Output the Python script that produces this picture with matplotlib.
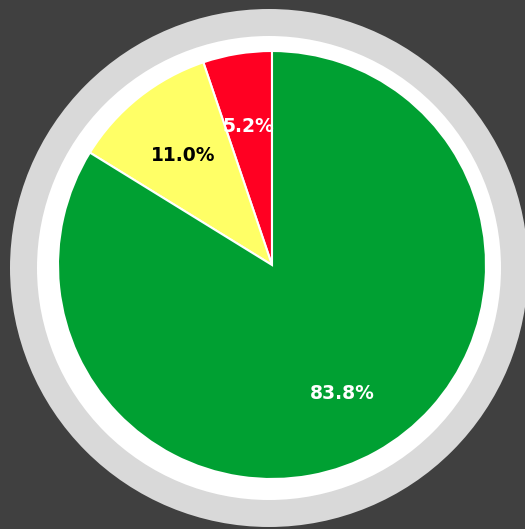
import matplotlib
matplotlib.use("Agg")
import matplotlib.pyplot as plt
from matplotlib.patches import Circle

labels = ["Red", "Yellow", "Green"]
values = [5.2, 11.0, 83.8]
colors = ["#ff0022", "#ffff66", "#00a032"]
text_colors = ["white", "black", "white"]

W, H = 525, 529
fig = plt.figure(figsize=(W / 100, H / 100), dpi=100)
fig.patch.set_facecolor("#404040")
ax = fig.add_axes([0, 0, 1, 1])
ax.set_facecolor("#404040")

cx, cy = 269, H - 268
ax.add_patch(Circle((cx, cy), 259, facecolor="#d9d9d9", edgecolor="none", zorder=0))
ax.add_patch(Circle((cx, cy), 232, facecolor="white", edgecolor="none", zorder=0.5))

wedges, texts, autotexts = ax.pie(
    values, colors=colors, startangle=90, counterclock=True,
    radius=214, center=(272, H - 265),
    autopct="%1.1f%%", pctdistance=0.67,
    wedgeprops=dict(edgecolor="white", linewidth=1.5),
    textprops=dict(fontsize=13.5, fontweight="bold"),
)
for t, c in zip(autotexts, text_colors):
    t.set_color(c)
    x, y = t.get_position()
    t.set_position((x, y - 3))
for w in wedges:
    w.set_zorder(1)
for t in autotexts:
    t.set_zorder(3)

ax.set_xlim(0, W)
ax.set_ylim(0, H)
ax.set_aspect("equal")
ax.axis("off")
fig.savefig("out.png", dpi=100, facecolor=fig.get_facecolor())
